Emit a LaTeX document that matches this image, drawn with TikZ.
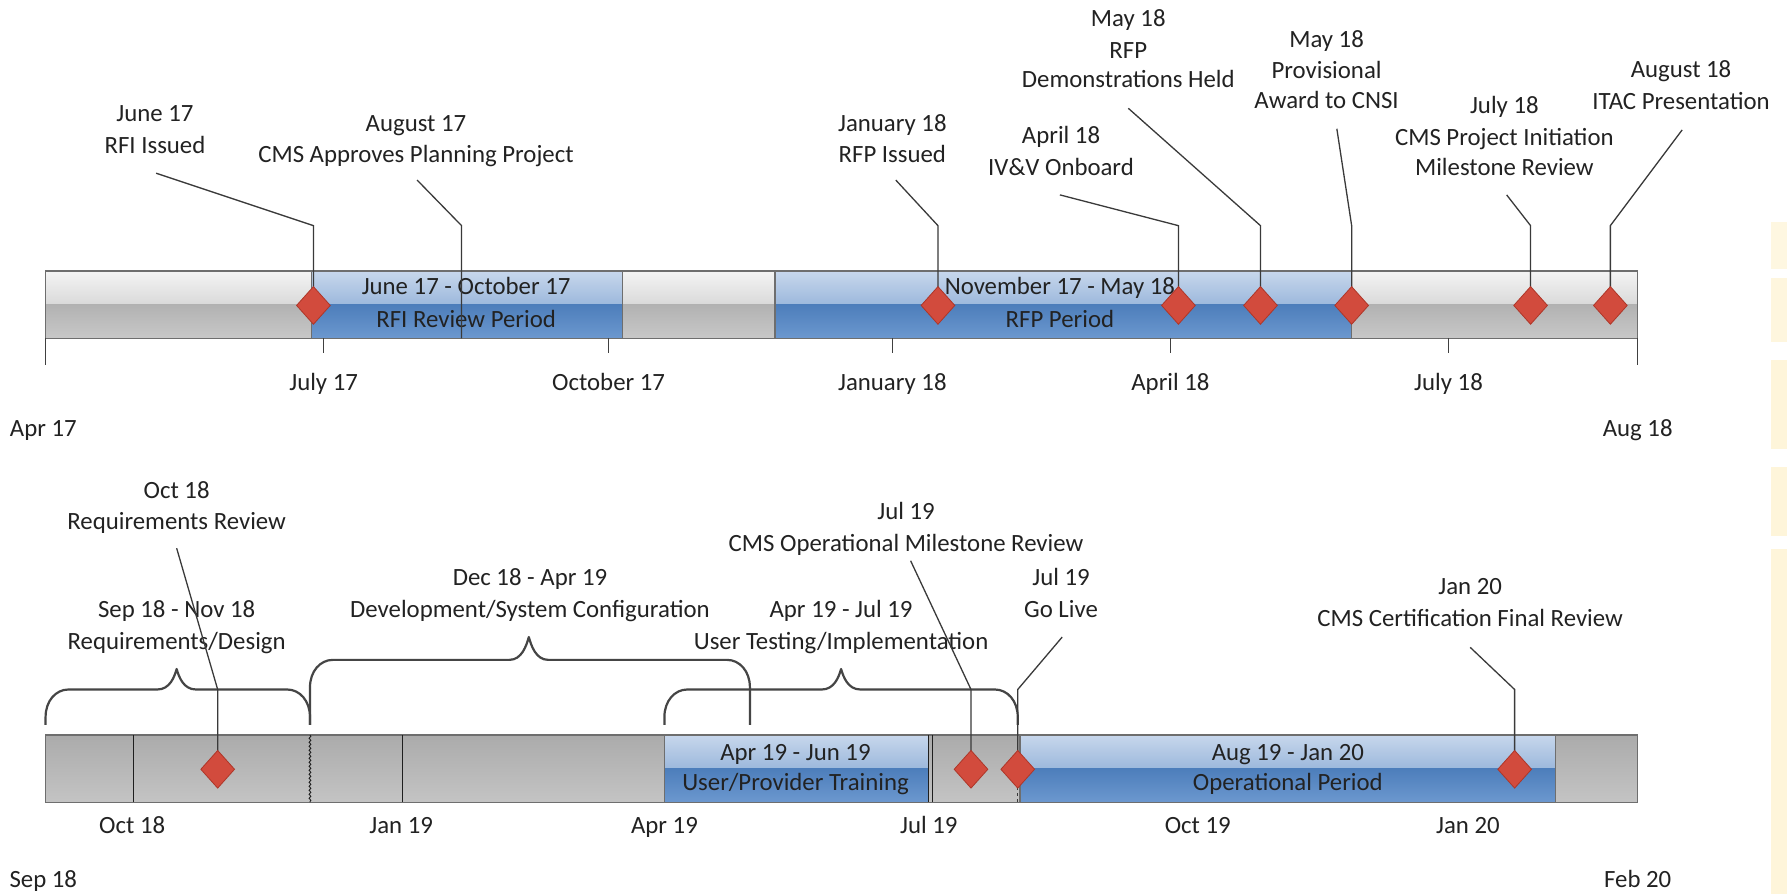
\documentclass[tikz,border=0pt]{standalone}
\usepackage{fontspec}
\setmainfont{Carlito}
\usetikzlibrary{shapes.geometric,decorations.pathmorphing}
\definecolor{txt}{HTML}{222222}
\definecolor{edgec}{HTML}{6E6E6E}
\definecolor{connc}{HTML}{3A3A3A}
\definecolor{tickc}{HTML}{404040}
\definecolor{brcc}{HTML}{454545}
\definecolor{sepc}{HTML}{1F1F1F}
\definecolor{dfill}{HTML}{D24B3D}
\definecolor{ddraw}{HTML}{AE3628}
\definecolor{gA}{HTML}{F4F4F4}
\definecolor{gB}{HTML}{D9D9D9}
\definecolor{gC}{HTML}{B2B2B2}
\definecolor{gD}{HTML}{C8C8C8}
\definecolor{gE}{HTML}{ABABAB}
\definecolor{gF}{HTML}{C4C4C4}
\definecolor{bA}{HTML}{C7D7EC}
\definecolor{bB}{HTML}{9CB8DC}
\definecolor{bC}{HTML}{4D7EBB}
\definecolor{bD}{HTML}{6C98CF}
\definecolor{yl}{HTML}{FEF5DA}
% #1 left x, #2 right x, #3 tip x, #4 bottom y, #5 horizontal y, #6 tip y
\newcommand\mybrace[6]{%
  \draw[brc] (#1,#4) -- (#1,#5+24) .. controls (#1,#5+10) and (#1+9,#5) .. (#1+20,#5)
    -- (#3-17,#5) .. controls (#3-6,#5) and (#3-2,#6+7) .. (#3,#6)
    .. controls (#3+2,#6+7) and (#3+6,#5) .. (#3+17,#5)
    -- (#2-20,#5) .. controls (#2-9,#5) and (#2,#5+10) .. (#2,#5+24) -- (#2,#4);}
\newcommand\grayseg[4]{%
  \fill[top color=gA,bottom color=gB] (#1,#3) rectangle (#2,#3/2+#4/2);
  \fill[top color=gC,bottom color=gD] (#1,#3/2+#4/2) rectangle (#2,#4);}
\newcommand\blueseg[4]{%
  \fill[top color=bA,bottom color=bB] (#1,#3) rectangle (#2,#3/2+#4/2);
  \fill[top color=bC,bottom color=bD] (#1,#3/2+#4/2) rectangle (#2,#4);
  \draw[edgec,line width=1.2pt] (#1,#3) rectangle (#2,#4);}
\begin{document}
\begin{tikzpicture}[x=1.1397pt,y=-1.1397pt,
  lbl/.style={font=\fontsize{24.8}{28}\selectfont, text=txt, anchor=base, inner sep=0pt},
  dia/.style={shape=diamond, draw=ddraw, fill=dfill, line width=0.8pt, minimum width=34pt, minimum height=38pt, inner sep=0pt},
  conn/.style={draw=connc, line width=1.3pt},
  tick/.style={draw=tickc, line width=1.3pt},
  brc/.style={draw=brcc, line width=2.2pt, line join=round},
  sep/.style={draw=sepc, line width=1.3pt}]
\useasboundingbox (0,0) rectangle (1568,784);
\fill[white] (0,0) rectangle (1568,784);
% right edge decoration
\fill[yl!80] (1554,195) rectangle (1568,236);
\fill[yl!90] (1554,244) rectangle (1568,300);
\fill[yl] (1554,316) rectangle (1568,394);
\fill[yl] (1554,410) rectangle (1568,470);
\fill[yl] (1554,482) rectangle (1568,784);

% ================= TOP TIMELINE =================
\grayseg{40}{1437}{238}{297}
\blueseg{273}{546}{238}{297}
\blueseg{680}{1186}{238}{297}
\draw[edgec,line width=1.5pt] (40,238) rectangle (1437,297);
\node[lbl] (tb1a) at (409,258) {June 17 - October 17};
\node[lbl] (tb1b) at (409,287) {RFI Review Period};
\node[lbl] (tb2a) at (930,258) {November 17 - May 18};
\node[lbl] (tb2b) at (930,287) {RFP Period};
% ticks
\draw[tick] (40,297) -- (40,320);
\draw[tick] (1437,297) -- (1437,320);
\foreach \x in {284,534,783,1027,1271} \draw[tick] (\x,297) -- (\x,310);
\node[lbl] (ax1) at (284,343) {July 17};
\node[lbl] (ax2) at (534,343) {October 17};
\node[lbl] (ax3) at (783,343) {January 18};
\node[lbl] (ax4) at (1027,343) {April 18};
\node[lbl] (ax5) at (1271,343) {July 18};
\node[lbl] (axs) at (38,383) {Apr 17};
\node[lbl] (axe) at (1437,383) {Aug 18};
% labels
\node[lbl] (t1a) at (136,107) {June 17};
\node[lbl] (t1b) at (136,135) {RFI Issued};
\node[lbl] (t2a) at (365,115) {August 17};
\node[lbl] (t2b) at (365,143) {CMS Approves Planning Project};
\node[lbl] (t3a) at (783,115) {January 18};
\node[lbl] (t3b) at (783,143) {RFP Issued};
\node[lbl] (t4a) at (931,126) {April 18};
\node[lbl] (t4b) at (931,154) {IV\&V Onboard};
\node[lbl] (t5a) at (990,23) {May 18};
\node[lbl] (t5b) at (990,51) {RFP};
\node[lbl] (t5c) at (990,77) {Demonstrations Held};
\node[lbl] (t6a) at (1164,42) {May 18};
\node[lbl] (t6b) at (1164,69) {Provisional};
\node[lbl] (t6c) at (1164,95) {Award to CNSI};
\node[lbl] (t7a) at (1320,100) {July 18};
\node[lbl] (t7b) at (1320,128) {CMS Project Initiation};
\node[lbl] (t7c) at (1320,154) {Milestone Review};
\node[lbl] (t8a) at (1475,68) {August 18};
\node[lbl] (t8b) at (1475,96) {ITAC Presentation};
% connectors
\coordinate (t1p) at (275,268); \coordinate (t1e) at (275,198); \coordinate (t1f) at (137,152);
\coordinate (t2p) at (405,297); \coordinate (t2e) at (405,198); \coordinate (t2f) at (366,158);
\coordinate (t3p) at (823,268); \coordinate (t3e) at (823,198); \coordinate (t3f) at (786,158);
\coordinate (t4p) at (1034,268); \coordinate (t4e) at (1034,198); \coordinate (t4f) at (930,171);
\coordinate (t5p) at (1106,268); \coordinate (t5e) at (1106,198); \coordinate (t5f) at (990,95);
\coordinate (t6p) at (1186,268); \coordinate (t6e) at (1186,198); \coordinate (t6f) at (1173,113);
\coordinate (t7p) at (1343,268); \coordinate (t7e) at (1343,198); \coordinate (t7f) at (1322,171);
\coordinate (t8p) at (1413,268); \coordinate (t8e) at (1413,198); \coordinate (t8f) at (1476,114);
\foreach \i in {1,...,8} \draw[conn] (t\i p) -- (t\i e) -- (t\i f);
\foreach \i in {1,3,4,5,6,7,8} \node[dia] (t\i) at (t\i p) {};

% ================= BOTTOM TIMELINE =================
\fill[top color=gE,bottom color=gF] (40,645) rectangle (1437,704);
\blueseg{583}{815}{645}{704}
\blueseg{895}{1365}{645}{704}
\draw[edgec,line width=1.5pt] (40,645) rectangle (1437,704);
\draw[sep] (117,645) -- (117,704);
\draw[sep] (353,645) -- (353,704);
\draw[sep] (815,645) -- (815,704);
\draw[sep] (818.5,645) -- (818.5,704);
\draw[sepc,line width=0.9pt,decorate,decoration={snake,amplitude=0.9pt,segment length=4pt}] (272,645) -- (272,704);
\node[lbl] (bb1a) at (698,667) {Apr 19 - Jun 19};
\node[lbl] (bb1b) at (698,694) {User/Provider Training};
\node[lbl] (bb2a) at (1130,667) {Aug 19 - Jan 20};
\node[lbl] (bb2b) at (1130,694) {Operational Period};
\node[lbl] (bx1) at (116,731) {Oct 18};
\node[lbl] (bx2) at (352,731) {Jan 19};
\node[lbl] (bx3) at (583,731) {Apr 19};
\node[lbl] (bx4) at (815,731) {Jul 19};
\node[lbl] (bx5) at (1051,731) {Oct 19};
\node[lbl] (bx6) at (1288,731) {Jan 20};
\node[lbl] (bxs) at (38,779) {Sep 18};
\node[lbl] (bxe) at (1437,779) {Feb 20};
% braces
\mybrace{40}{272}{155}{636}{605}{587}
\mybrace{272}{658}{464}{636}{579}{559}
\mybrace{583}{893}{738}{636}{605}{587}
\node[lbl] (p1a) at (155,542) {Sep 18 - Nov 18};
\node[lbl] (p1b) at (155,570) {Requirements/Design};
\node[lbl] (p2a) at (465,514) {Dec 18 - Apr 19};
\node[lbl] (p2b) at (465,542) {Development/System Configuration};
\node[lbl] (p3a) at (738,542) {Apr 19 - Jul 19};
\node[lbl] (p3b) at (738,570) {User Testing/Implementation};
% milestone labels
\node[lbl] (m1a) at (155,437) {Oct 18};
\node[lbl] (m1b) at (155,465) {Requirements Review};
\node[lbl] (m2a) at (795,456) {Jul 19};
\node[lbl] (m2b) at (795,484) {CMS Operational Milestone Review};
\node[lbl] (m3a) at (931,514) {Jul 19};
\node[lbl] (m3b) at (931,542) {Go Live};
\node[lbl] (m4a) at (1290,522) {Jan 20};
\node[lbl] (m4b) at (1290,550) {CMS Certification Final Review};
% connectors
\coordinate (m1p) at (191,675); \coordinate (m1e) at (191,605); \coordinate (m1f) at (155,481);
\coordinate (m2p) at (852,675); \coordinate (m2e) at (852,605); \coordinate (m2f) at (799,492);
\coordinate (m3p) at (893,675); \coordinate (m3e) at (893,605); \coordinate (m3f) at (932,559);
\coordinate (m4p) at (1329,675); \coordinate (m4e) at (1329,605); \coordinate (m4f) at (1290,568);
\foreach \i in {1,...,4} \draw[conn] (m\i p) -- (m\i e) -- (m\i f);
\draw[connc,line width=0.8pt,dashed] (m3p) -- (893,704);
\foreach \i in {1,...,4} \node[dia] (m\i) at (m\i p) {};
\end{tikzpicture}
\end{document}
